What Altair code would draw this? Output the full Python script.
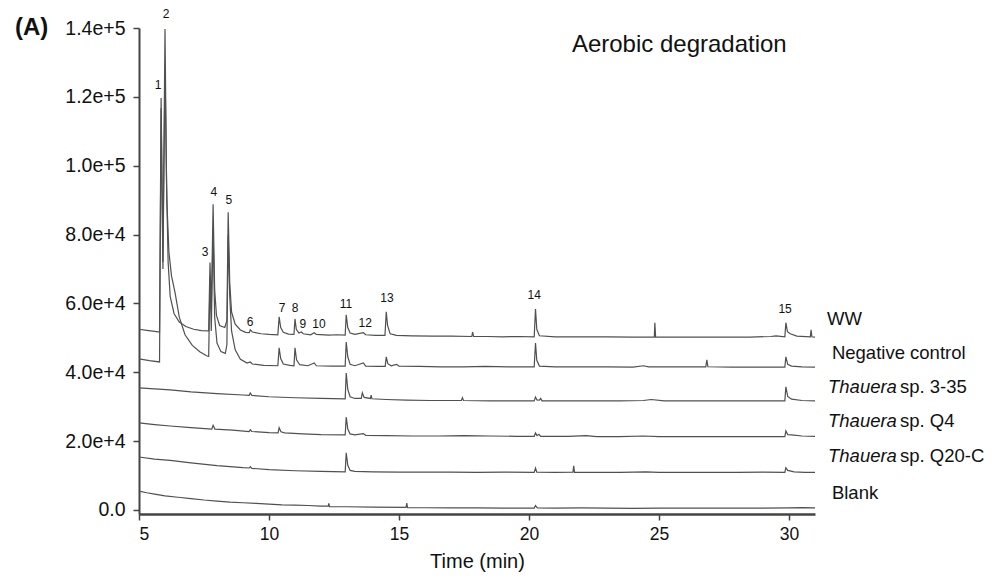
import altair as alt
import pandas as pd

# ---------------- data ----------------
SERIES = ["WW", "Negative control", "Thauera sp. 3-35", "Thauera sp. Q4",
          "Thauera sp. Q20-C", "Blank"]

WW_T = [5.00, 5.30, 5.60, 5.79, 5.85, 5.92, 6.00, 6.06, 6.12, 6.20, 6.35, 6.55, 6.80, 7.10, 7.40,
        7.68, 7.73, 7.78, 7.85, 7.91, 7.98, 8.10, 8.30, 8.38, 8.43, 8.49, 8.56, 8.70, 8.90, 9.10,
        9.24, 9.28, 9.36, 9.70, 10.0, 10.34, 10.39, 10.45, 10.55, 10.75, 10.96, 11.00, 11.05, 11.15,
        11.24, 11.32, 11.60, 11.74, 11.82, 12.30, 12.60, 12.93, 12.97, 13.03, 13.12, 13.30, 13.63,
        13.72, 14.10, 14.46, 14.51, 14.56, 14.66, 14.90, 15.50, 16.30, 17.00, 17.80, 17.83, 17.87,
        18.40, 19.00, 19.60, 20.20, 20.25, 20.30, 20.40, 21.00, 22.00, 23.00, 24.00, 24.82, 24.84,
        24.87, 25.50, 26.50, 27.50, 28.50, 29.30, 29.50, 29.84, 29.88, 29.94, 30.05, 30.30, 30.82,
        30.85, 30.88, 31.00]
WW_V = [52500, 52200, 51900, 51700, 119700, 72000, 139700, 95000, 72000, 62000, 57000, 54600, 53300,
        52500, 52100, 52000, 71900, 58000, 88800, 64000, 56500, 53600, 53000, 55000, 86500, 66000,
        57500, 54000, 52300, 51600, 51500, 52300, 51700, 51200, 51000, 50900, 56100, 53000, 51600,
        51100, 51000, 55500, 52500, 51400, 51700, 51200, 50900, 51500, 51000, 50800, 50900, 50800,
        56700, 53000, 51400, 51000, 51500, 50900, 50700, 50700, 57600, 53600, 51200, 50700, 50600,
        50500, 50500, 50400, 51700, 50400, 50400, 50300, 50400, 50300, 58400, 52500, 50600, 50300,
        50300, 50300, 50200, 50200, 54400, 50200, 50200, 50200, 50200, 50200, 50400, 50600, 50300,
        54400, 51800, 51200, 50500, 50300, 52300, 50300, 50200]

NC_T = [5.00, 5.40, 5.79, 5.85, 5.92, 6.00, 6.07, 6.15, 6.25, 6.39, 6.55, 6.77, 7.05, 7.35, 7.60,
        7.68, 7.73, 7.78, 7.85, 7.91, 8.00, 8.15, 8.32, 8.38, 8.43, 8.49, 8.56, 8.70, 8.90, 9.16,
        9.28, 9.36, 9.80, 10.34, 10.39, 10.45, 10.55, 10.80, 10.96, 11.00, 11.06, 11.18, 11.50,
        11.74, 11.82, 12.40, 12.93, 12.97, 13.03, 13.12, 13.30, 13.63, 13.72, 14.20, 14.47, 14.51,
        14.57, 14.70, 14.90, 15.00, 15.80, 16.60, 17.50, 18.30, 19.20, 20.20, 20.25, 20.30, 20.40,
        21.00, 22.00, 23.00, 24.00, 24.40, 24.60, 25.50, 26.80, 26.84, 26.88, 27.80, 29.00, 29.84,
        29.88, 29.95, 30.10, 30.50, 31.00]
NC_V = [43900, 43400, 43000, 116700, 70000, 127800, 90000, 75000, 68000, 63000, 56000, 50900, 47800,
        45900, 44800, 44600, 67500, 52000, 82000, 56000, 48500, 46000, 45500, 48000, 79800, 62000,
        52000, 46500, 43800, 42700, 43000, 42400, 42000, 41900, 47100, 44000, 42400, 42000, 41900,
        47100, 43600, 42200, 41900, 42700, 41900, 41800, 41800, 48800, 44500, 42300, 41900, 42700,
        41800, 41700, 41700, 44500, 42500, 41900, 42300, 41800, 41700, 41600, 41600, 41700, 41600,
        41600, 48500, 43500, 41800, 41600, 41600, 41600, 41500, 41900, 41600, 41600, 41600, 43600,
        41600, 41500, 41500, 41500, 44500, 42300, 41800, 41600, 41500]

T335_T = [5.0, 5.6, 6.2, 7.0, 8.0, 9.0, 9.24, 9.28, 9.34, 10.0, 11.0, 12.0, 12.93, 12.97, 13.03,
          13.12, 13.30, 13.55, 13.59, 13.66, 13.90, 13.93, 13.96, 14.5, 15.3, 16.2, 17.4, 17.44,
          17.48, 18.5, 19.5, 20.20, 20.25, 20.30, 20.40, 20.45, 20.50, 21.5, 22.5, 23.5, 24.4, 24.7,
          25.2, 26.3, 27.4, 28.5, 29.84, 29.88, 29.95, 30.1, 30.5, 31.0]
T335_V = [35500, 35200, 34900, 34300, 33800, 33400, 33300, 34000, 33300, 32900, 32600, 32400, 32300,
          39800, 35000, 32900, 32400, 32400, 34000, 32700, 32400, 33400, 32300, 32100, 31900, 31800,
          31800, 32600, 31800, 31700, 31700, 31700, 32800, 32000, 31900, 32400, 31700, 31700, 31700,
          31700, 31800, 32100, 31700, 31700, 31700, 31700, 31700, 35800, 33000, 32200, 31800, 31700]

Q4_T = [5.0, 5.6, 6.2, 7.0, 7.80, 7.85, 7.92, 8.6, 9.24, 9.28, 9.34, 10.0, 10.35, 10.39, 10.46,
        10.6, 11.3, 12.0, 12.93, 12.97, 13.03, 13.12, 13.3, 13.63, 13.72, 14.5, 15.5, 16.5, 17.5,
        18.5, 19.5, 20.20, 20.25, 20.31, 20.38, 20.45, 21.5, 22.2, 22.6, 23.5, 24.4, 25.0, 26.0,
        27.0, 28.0, 29.0, 29.84, 29.88, 29.95, 30.1, 30.5, 31.0]
Q4_V = [25300, 24800, 24400, 23900, 23500, 24600, 23500, 23200, 22800, 23300, 22800, 22500, 22400,
        23900, 22700, 22400, 22100, 21900, 21800, 27000, 23500, 22100, 21800, 22200, 21700, 21600,
        21500, 21500, 21600, 21500, 21400, 21400, 22400, 21600, 22000, 21400, 21400, 21600, 21300,
        21300, 21500, 21300, 21300, 21300, 21300, 21300, 21300, 23000, 21900, 21800, 21500, 21400]

Q20_T = [5.0, 5.6, 6.2, 7.0, 8.0, 9.0, 9.24, 9.28, 9.34, 10.0, 11.0, 12.0, 12.93, 12.97, 13.03,
         13.12, 13.3, 14.0, 15.0, 16.0, 17.0, 18.0, 19.0, 20.20, 20.25, 20.30, 21.0, 21.69, 21.72,
         21.75, 22.5, 23.5, 24.5, 25.0, 26.0, 27.0, 28.0, 29.0, 29.84, 29.88, 29.95, 30.2, 30.6, 31.0]
Q20_V = [15400, 14800, 14400, 13700, 12900, 12300, 12200, 12600, 12100, 11700, 11400, 11200, 11100,
         16600, 13000, 11500, 11200, 11100, 11000, 11000, 11000, 10900, 11000, 10900, 12200, 11000,
         10900, 11000, 12800, 10900, 10900, 10900, 11100, 10900, 10900, 10900, 10900, 11000, 10900,
         12300, 11500, 11100, 10900, 10900]

BLANK_T = [5.0, 5.3, 5.6, 6.0, 6.5, 7.0, 7.5, 8.0, 8.5, 9.0, 9.5, 10.0, 10.5, 11.0, 11.5, 12.0,
           12.28, 12.30, 12.33, 13.0, 14.0, 15.27, 15.30, 15.33, 16.0, 17.0, 18.0, 19.0, 20.20,
           20.25, 20.32, 21.0, 22.0, 23.0, 24.0, 25.0, 26.0, 27.0, 28.0, 29.0, 30.0, 30.5, 31.0]
BLANK_V = [5500, 5000, 4600, 4100, 3700, 3300, 2900, 2600, 2300, 2100, 1900, 1700, 1500, 1400, 1300,
           1150, 1100, 1900, 1000, 950, 850, 750, 2000, 700, 650, 600, 600, 550, 550, 1300, 600, 550,
           600, 550, 500, 550, 550, 550, 550, 550, 600, 700, 600]

# peak numbers and where they are written
PEAK_LABELS = ["1", "2", "3", "4", "5", "6", "7", "8", "9", "10", "11", "12", "13", "14", "15"]
PEAK_T = [5.73, 6.04, 7.54, 7.88, 8.46, 9.27, 10.50, 11.00, 11.30, 11.92, 12.96, 13.70, 14.54, 20.20, 29.85]
PEAK_V = [123300, 144200, 75000, 92400, 90100, 54700, 58700, 58700, 54100, 54100, 59900, 54400,
          61600, 62500, 58400]

# series names written at the right
PLAIN_NAMES = ["WW", "Negative control", "Blank"]
PLAIN_T = [31.46, 31.65, 31.65]
PLAIN_V = [55500, 45600, 4900]
GENUS = ["Thauera", "Thauera", "Thauera"]
STRAIN = ["sp. 3-35", "sp. Q4", "sp. Q20-C"]
STRAIN_T = [31.50, 31.50, 31.50]
STRAIN_V = [35800, 25900, 15700]

TITLE_TEXT = ["Aerobic degradation"]
TITLE_T = [21.65]
TITLE_V = [135200]
PANEL_TEXT = ["(A)"]
PANEL_T = [0.23]
PANEL_V = [140000]

X_TICKS = [5, 10, 15, 20, 25, 30]
Y_TICKS = [0, 20000, 40000, 60000, 80000, 100000, 120000, 140000]

# ---------------- build tables ----------------
traces = [WW_T, NC_T, T335_T, Q4_T, Q20_T, BLANK_T]
values = [WW_V, NC_V, T335_V, Q4_V, Q20_V, BLANK_V]
rows = []
for name, ts, vs in zip(SERIES, traces, values):
    for i, (t, v) in enumerate(zip(ts, vs)):
        rows.append({"series": name, "t": t, "v": v, "i": i})
df = pd.DataFrame(rows)

peaks = pd.DataFrame({"label": PEAK_LABELS, "t": PEAK_T, "v": PEAK_V})
plain = pd.DataFrame({"label": PLAIN_NAMES, "t": PLAIN_T, "v": PLAIN_V})
genus = pd.DataFrame({"label": GENUS, "t": STRAIN_T, "v": STRAIN_V})
strain = pd.DataFrame({"label": STRAIN, "t": STRAIN_T, "v": STRAIN_V})
title_df = pd.DataFrame({"label": TITLE_TEXT, "t": TITLE_T, "v": TITLE_V})
panel_df = pd.DataFrame({"label": PANEL_TEXT, "t": PANEL_T, "v": PANEL_V})

FONT = "Liberation Sans"
xs = alt.Scale(domain=[5, 31], nice=False, zero=False)
ys = alt.Scale(domain=[-1162, 140000], nice=False, zero=False)

x_axis = alt.Axis(values=X_TICKS, title="Time (min)", grid=False, labelFontSize=17.5,
                  titleFontSize=20, titleFontWeight="normal", labelPadding=5, titlePadding=9,
                  tickSize=6, domainWidth=2.5, domainColor="#444", tickColor="#444", tickWidth=1.5,
                  labelColor="#111", titleColor="#111", labelFont=FONT, titleFont=FONT)
y_axis = alt.Axis(values=Y_TICKS, title=None, grid=False, labelFontSize=19.5, labelPadding=8,
                  tickSize=6, domainWidth=2, domainColor="#444", tickColor="#444", tickWidth=1.5,
                  labelColor="#111", labelFont=FONT,
                  labelExpr="datum.value == 0 ? '0.0' : format(datum.value, '.1e')")

lines = alt.Chart(df).mark_line(color="#505050", strokeWidth=1.2, clip=True).encode(
    x=alt.X("t:Q", scale=xs, axis=x_axis),
    y=alt.Y("v:Q", scale=ys, axis=y_axis),
    detail="series:N",
    order="i:Q",
)


def text_layer(data, size, **kw):
    return alt.Chart(data).mark_text(fontSize=size, font=FONT, color="#111",
                                     baseline="middle", **kw).encode(
        x=alt.X("t:Q", scale=xs), y=alt.Y("v:Q", scale=ys), text="label:N")


peak_text = text_layer(peaks, 12, align="center")
plain_text = text_layer(plain, 18.5, align="left")
genus_text = text_layer(genus, 18.5, align="left", fontStyle="italic")
strain_text = text_layer(strain, 18.5, align="left", dx=72)
title_text = text_layer(title_df, 24, align="left")
panel_text = text_layer(panel_df, 24, align="left", fontWeight="bold")

chart = alt.layer(lines, peak_text, plain_text, genus_text, strain_text, title_text,
                  panel_text).properties(
    width=676, height=486,
    autosize=alt.AutoSizeParams(type="none"),
    padding={"left": 131, "top": 20, "right": 175, "bottom": 60},
    background="white",
).configure_view(stroke=None)

chart.save("out.html", embed_options={"renderer": "svg", "actions": False})
